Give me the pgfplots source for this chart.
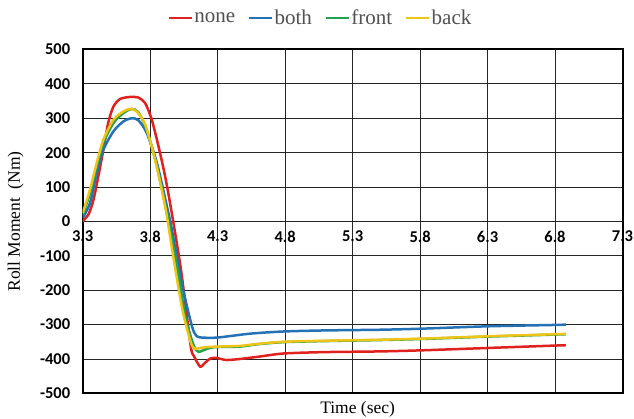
\documentclass[border=0pt]{standalone}
\usepackage{fontspec}
\setmainfont{Liberation Serif}
\newfontfamily\tickfont{Carlito}
\usepackage{pgfplots}
\pgfplotsset{compat=1.18}
\definecolor{cnone}{HTML}{E0211E}
\definecolor{cboth}{HTML}{2472B6}
\definecolor{cfront}{HTML}{22A24E}
\definecolor{cback}{HTML}{EEC418}
\definecolor{legtext}{HTML}{505050}
\begin{document}
\begin{tikzpicture}
\begin{axis}[
  scale only axis, width=540pt, height=344pt,
  xmin=3.3, xmax=7.3, ymin=-500, ymax=500,
  xtick={3.3,3.8,4.3,4.8,5.3,5.8,6.3,6.8,7.3},
  xticklabels={3.3,3.8,4.3,4.8,5.3,5.8,6.3,6.8,7.3},
  ytick={-500,-400,-300,-200,-100,0,100,200,300,400,500},
  yticklabels={-500,-400,-300,-200,-100,0,100,200,300,400,500},
  ticklabel style={font=\tickfont\bfseries\fontsize{16.5}{18}\selectfont},
  xticklabel style={yshift=166pt},
  yticklabel style={xshift=-9pt},
  major tick length=0pt,
  grid=major,
  major grid style={black!85, line width=0.9pt},
  axis line style={black, line width=2pt},
  xlabel={Time (sec)},
  ylabel={Roll Moment\ \ (Nm)},
  label style={font=\fontsize{17.5}{20}\selectfont},
  xlabel style={at={(axis description cs:0.5,0)}, anchor=center, xshift=5pt, yshift=-16pt},
  ylabel style={at={([xshift=-67pt]axis description cs:0,0.5)}, anchor=center},
  legend columns=4,
  legend style={at={(axis description cs:0.5,1)}, anchor=center, xshift=-32.5pt, yshift=31.5pt,
    draw=none, fill=none, inner sep=0pt,
    font=\fontsize{21}{24}\selectfont, text=legtext,
    nodes={inner xsep=1.5pt, inner ysep=0pt},
    /tikz/every even column/.append style={column sep=11pt}},
  legend cell align=left,
  legend image code/.code={\draw[#1, line width=2.5pt] (0pt,0pt) -- (23pt,0pt);},
  every axis plot/.append style={line width=2.5pt, smooth, tension=0.45},
]
\addplot[cnone] coordinates {
(3.300,0) (3.345,22) (3.380,63) (3.416,131) (3.453,208) (3.490,288) (3.528,334)
(3.577,356) (3.651,362) (3.713,360) (3.763,344) (3.812,296) (3.862,218) (3.911,131)
(3.960,25) (4.030,-145) (4.100,-361) (4.125,-392) (4.170,-422) (4.205,-412) (4.243,-399)
(4.290,-397) (4.366,-403) (4.465,-400) (4.610,-393) (4.790,-384) (5.090,-380)
(5.500,-378) (5.800,-375) (6.300,-368) (6.800,-361) (6.880,-360)};
\addlegendentry{none}
\addplot[cboth] coordinates {
(3.300,10) (3.354,53) (3.404,140) (3.453,208) (3.528,262) (3.602,291) (3.664,300)
(3.713,294) (3.775,257) (3.850,170) (3.924,44) (3.960,-22) (4.040,-190) (4.110,-305)
(4.145,-334) (4.200,-338) (4.290,-338) (4.400,-333) (4.550,-326) (4.790,-320)
(5.090,-317) (5.500,-315) (5.800,-312) (6.300,-305) (6.800,-301) (6.880,-300)};
\addlegendentry{both}
\addplot[cfront] coordinates {
(3.300,19) (3.354,82) (3.404,160) (3.453,228) (3.528,286) (3.602,315) (3.664,327)
(3.713,317) (3.775,266) (3.850,160) (3.924,24) (3.990,-110) (4.063,-280) (4.124,-362)
(4.157,-379) (4.185,-376) (4.268,-366) (4.465,-364) (4.600,-357) (4.790,-351)
(5.090,-348) (5.500,-345) (5.800,-342) (6.300,-335) (6.800,-329) (6.880,-328)};
\addlegendentry{front}
\addplot[cback] coordinates {
(3.300,24) (3.354,92) (3.404,170) (3.453,237) (3.528,296) (3.602,320) (3.651,327)
(3.700,320) (3.763,281) (3.837,179) (3.911,44) (3.964,-85) (4.038,-255) (4.100,-350)
(4.130,-370) (4.200,-366) (4.300,-364) (4.465,-362) (4.600,-356) (4.790,-350)
(5.090,-347) (5.500,-344) (5.800,-341) (6.300,-334) (6.800,-328) (6.880,-327)};
\addlegendentry{back}
\end{axis}
\pgfresetboundingbox
\path[use as bounding box] (-82.7pt,-25.6pt) rectangle (551.5pt,393.5pt);
\end{tikzpicture}
\end{document}
